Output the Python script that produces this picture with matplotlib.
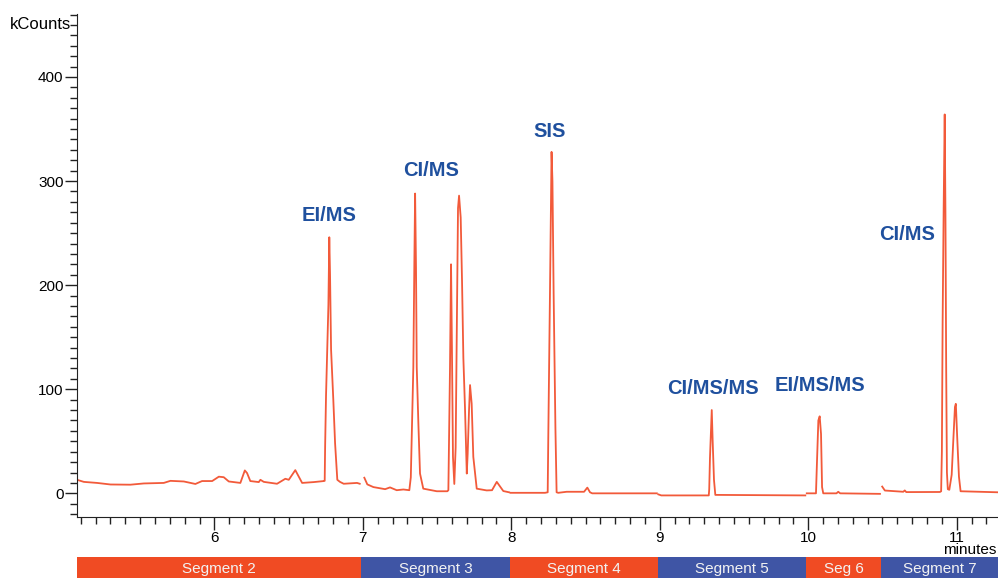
import matplotlib
matplotlib.use('Agg')
import matplotlib.pyplot as plt
from matplotlib.ticker import MultipleLocator, FixedLocator

plt.rcParams['font.family'] = ['Liberation Sans', 'DejaVu Sans']

# chromatogram trace, one piece per acquisition segment (minutes, kCounts)
seg2_t = [5.075, 5.121, 5.210, 5.300, 5.434, 5.525, 5.659, 5.704, 5.794, 5.872, 5.917, 5.985,
          6.030, 6.063, 6.097, 6.175, 6.205, 6.220, 6.242, 6.299, 6.310, 6.333, 6.422, 6.478,
          6.501, 6.545, 6.591, 6.669, 6.737, 6.743, 6.746, 6.752, 6.768, 6.774, 6.779, 6.786,
          6.801, 6.813, 6.828, 6.846, 6.871, 6.961, 6.979]
seg2_v = [13, 11, 10, 8.5, 8.3, 9.5, 10, 12, 11.4, 9, 11.8, 11.8,
          16, 15.5, 11.4, 10, 22, 19.5, 11.8, 10.8, 13, 11, 9.2, 14,
          13, 22.3, 10, 10.8, 11.8, 12, 46, 94, 181, 246, 210, 138,
          90, 48, 13, 11, 9.2, 10, 9.2]

seg3_t = [7.010, 7.030, 7.071, 7.150, 7.183, 7.228, 7.273, 7.313, 7.323, 7.340, 7.347, 7.352,
          7.358, 7.363, 7.374, 7.385, 7.407, 7.498, 7.569, 7.576, 7.587, 7.594, 7.600, 7.607,
          7.616, 7.625, 7.632, 7.641, 7.648, 7.659, 7.668, 7.677, 7.688, 7.700, 7.706, 7.715,
          7.722, 7.733, 7.744, 7.767, 7.834, 7.870, 7.902, 7.946, 7.985]
seg3_v = [15, 8.6, 6, 4, 5.7, 3, 3.7, 3, 15.4, 121, 223, 288,
          217, 121, 67, 19, 4.5, 2, 2, 3, 121, 220, 140, 35,
          9, 44, 146, 274, 286, 265, 204, 130, 82, 19, 38, 79,
          104, 86, 35, 4.5, 2.8, 3, 11, 2.2, 1]

seg4_t = [7.995, 8.104, 8.227, 8.245, 8.249, 8.262, 8.271, 8.277, 8.285, 8.297, 8.305, 8.316,
          8.373, 8.490, 8.512, 8.530, 8.545, 8.980]
seg4_v = [0.5, 0.5, 0.5, 1, 54, 213, 328, 300, 192, 63, 1, 0.5,
          1.5, 1.5, 5.5, 1, 0, 0]

seg5_t = [8.990, 9.010, 9.330, 9.333, 9.338, 9.350, 9.356, 9.365, 9.374, 9.980]
seg5_v = [-1.0, -2, -2, 4, 34, 80, 51, 13, -1.5, -2]

seg6_t = [9.990, 10.052, 10.057, 10.068, 10.077, 10.086, 10.093, 10.101, 10.190, 10.202,
          10.215, 10.483]
seg6_v = [0, 0, 22.6, 70, 74, 57, 6, 0, 0, 1.5, 0, -0.5]

seg7_t = [10.498, 10.516, 10.640, 10.650, 10.660, 10.887, 10.895, 10.900, 10.905, 10.912,
          10.919, 10.924, 10.929, 10.934, 10.940, 10.950, 10.966, 10.977, 10.988, 10.994,
          11.003, 11.015, 11.026, 11.278]
seg7_v = [6.5, 2.7, 1.5, 2.8, 1.2, 1.3, 2, 40, 164, 274,
          364, 270, 120, 20, 4, 3.4, 17.8, 51, 83, 86,
          54.5, 16, 2, 1]

# peak annotations
label_text = ['EI/MS', 'CI/MS', 'SIS', 'CI/MS/MS', 'EI/MS/MS', 'CI/MS']
label_t = [6.774, 7.457, 8.259, 9.360, 10.080, 10.665]
label_v = [267, 310, 348, 101, 104, 249]

# segment bar
seg_names = ['Segment 2', 'Segment 3', 'Segment 4', 'Segment 5', 'Seg 6', 'Segment 7']
seg_edges = [5.077, 6.99, 7.99, 8.985, 9.985, 10.49, 11.278]

RED = '#F04B23'
BLUE = '#3F55A5'
TRACE = '#F25A3A'
LABEL = '#1F509E'

fig = plt.figure(figsize=(9.98, 5.78), dpi=100)
ax = fig.add_axes([0.0775, 0.1047, 0.9225, 0.8711])

for t, v in [(seg2_t, seg2_v), (seg3_t, seg3_v), (seg4_t, seg4_v),
             (seg5_t, seg5_v), (seg6_t, seg6_v), (seg7_t, seg7_v)]:
    ax.plot(t, v, color=TRACE, lw=1.3)

for s, t, v in zip(label_text, label_t, label_v):
    ax.text(t, v, s, color=LABEL, fontsize=14.5, fontweight='bold',
            ha='center', va='center')

ax.set_xlim(seg_edges[0], seg_edges[-1])
ax.set_ylim(-23.2, 460.5)
for side in ['top', 'right']:
    ax.spines[side].set_visible(False)
ax.spines['left'].set_color('#222222')
ax.spines['bottom'].set_color('#222222')

ax.xaxis.set_major_locator(FixedLocator([6, 7, 8, 9, 10, 11]))
ax.xaxis.set_minor_locator(MultipleLocator(0.1))
ax.yaxis.set_major_locator(FixedLocator([0, 100, 200, 300, 400]))
ax.yaxis.set_minor_locator(MultipleLocator(10))
ax.tick_params(axis='both', which='major', length=9, width=1, color='#222222',
               labelsize=11, pad=1)
ax.tick_params(axis='both', which='minor', length=5, width=1, color='#222222')
ax.tick_params(axis='x', which='major', pad=0.5)

ax.text(-0.007, 450, 'kCounts', transform=ax.get_yaxis_transform(),
        ha='right', va='center', fontsize=12)
fig.text(943 / 998, 1 - 543 / 578, 'minutes', ha='left', va='top', fontsize=11)

# segment bar below the axis
bar = fig.add_axes([0.0775, 0.0, 0.9225, 21 / 578])
for i, name in enumerate(seg_names):
    c = RED if i % 2 == 0 else BLUE
    bar.axvspan(seg_edges[i], seg_edges[i + 1], color=c, lw=0)
    bar.text((seg_edges[i] + seg_edges[i + 1]) / 2, 0.45, name, color='#F2F2F2',
             fontsize=11, ha='center', va='center')
bar.set_xlim(seg_edges[0], seg_edges[-1])
bar.set_ylim(0, 1)
bar.axis('off')

fig.savefig('out.png', dpi=100)
